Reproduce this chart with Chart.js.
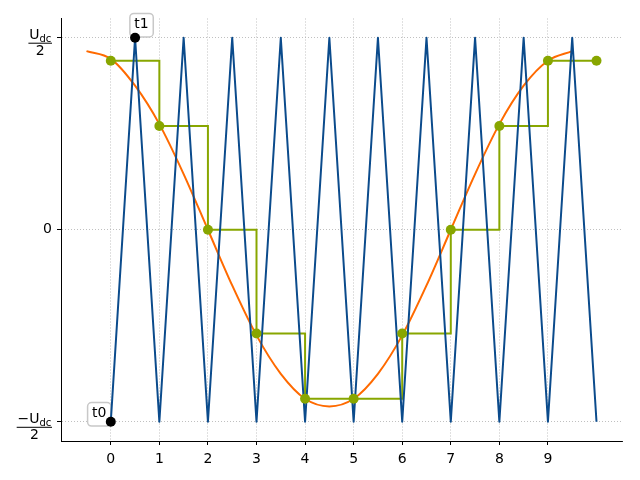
<!DOCTYPE html>
<html>
<head>
<meta charset="utf-8">
<script src="https://cdn.jsdelivr.net/npm/chart.js@4/dist/chart.umd.min.js"></script>
<style>
html,body{margin:0;padding:0;background:#fff;}
#c{display:block;}
</style>
</head>
<body>
<canvas id="c" width="640" height="480"></canvas>
<script>
// ---- data ----
const triangleX = [0,0.5,1,1.5,2,2.5,3,3.5,4,4.5,5,5.5,6,6.5,7,7.5,8,8.5,9,9.5,10];
const triangleY = [-1,1,-1,1,-1,1,-1,1,-1,1,-1,1,-1,1,-1,1,-1,1,-1,1,-1];
const curveX = [-0.5,0,0.5,1,1.5,2,2.5,3,3.5,4,4.5,5,5.5,6,6.5,7,7.5,8,8.5,9,9.5];
const curveY = [0.93,0.89,0.75,0.55,0.29,0,-0.29,-0.55,-0.75,-0.88,-0.92,-0.88,-0.75,-0.55,-0.29,0,0.29,0.55,0.75,0.88,0.93];
const sampleX = [0,1,2,3,4,5,6,7,8,9,10];
const sampleY = [0.88,0.54,0,-0.54,-0.88,-0.88,-0.54,0,0.54,0.88,0.88];
const markX = [0,0.5];
const markY = [-1,1];
const markLabels = ['t0','t1'];
const xTickValues = [0,1,2,3,4,5,6,7,8,9];
const yTickValues = [-1,0,1];

const zip = (xs, ys) => xs.map((x, i) => ({x: x, y: ys[i]}));

const BLUE = '#0b4b8c';
const ORANGE = '#ff6a00';
const GREEN = '#88a600';
const FONT = '"DejaVu Sans", sans-serif';

const overlay = {
  id: 'overlay',
  beforeDatasetsDraw(chart) {
    const ctx = chart.ctx, xs = chart.scales.x, ys = chart.scales.y;
    const offs = [[-11.5, -8.5], [6.5, -13.5]];
    ctx.save();
    ctx.font = '14px ' + FONT;
    markX.forEach((mx, i) => {
      const px = xs.getPixelForValue(mx) + offs[i][0];
      const py = ys.getPixelForValue(markY[i]) + offs[i][1];
      const w = ctx.measureText(markLabels[i]).width + 9;
      const h = 23.5;
      ctx.beginPath();
      ctx.roundRect(px - w / 2, py + 1 - h / 2, w, h, 4);
      ctx.fillStyle = '#ffffff';
      ctx.fill();
      ctx.lineWidth = 1.5;
      ctx.strokeStyle = '#c8c8c8';
      ctx.stroke();
      ctx.fillStyle = '#000';
      ctx.textAlign = 'center';
      ctx.textBaseline = 'middle';
      ctx.fillText(markLabels[i], px, py + 0.5);
    });
    ctx.restore();
  },
  afterDraw(chart) {
    const ctx = chart.ctx, ys = chart.scales.y;
    ctx.save();
    [[1, ''], [-1, '\u2212']].forEach(([v, pre]) => {
      const py = ys.getPixelForValue(v);
      ctx.font = '14px ' + FONT;
      const wMain = ctx.measureText(pre + 'U').width;
      ctx.font = '10px ' + FONT;
      const wSub = ctx.measureText('dc').width;
      const numW = wMain + wSub;
      ctx.font = '14px ' + FONT;
      const denW = ctx.measureText('2').width;
      const barW = Math.max(numW, denW) + 1.5;
      const right = 52;
      const left = right - barW;
      const cx = (left + right) / 2;
      ctx.fillStyle = '#000';
      ctx.textAlign = 'left';
      ctx.textBaseline = 'alphabetic';
      const nx = cx - numW / 2;
      ctx.fillText(pre + 'U', nx, py + 1.5);
      ctx.font = '10px ' + FONT;
      ctx.fillText('dc', nx + wMain, py + 4);
      ctx.fillRect(left, py + 5, barW, 1);
      ctx.font = '14px ' + FONT;
      ctx.textAlign = 'center';
      ctx.fillText('2', cx, py + 17.5);
    });
    ctx.restore();
  }
};

const gridCommon = {
  color: '#b0b0b0',
  lineWidth: 0.8,
  drawTicks: true,
  tickLength: 4,
  tickColor: '#000',
  tickWidth: 1,
  tickBorderDash: []
};
const borderCommon = {display: true, color: '#000', width: 1, dash: [1, 2]};

new Chart(document.getElementById('c'), {
  type: 'line',
  data: {
    datasets: [
      {data: zip(markX, markY), showLine: false, pointRadius: 5, pointBackgroundColor: '#000', pointBorderColor: '#000', pointBorderWidth: 0, order: 0},
      {data: zip(sampleX, sampleY), showLine: false, pointRadius: 5, pointBackgroundColor: GREEN, pointBorderColor: GREEN, pointBorderWidth: 0, order: 1},
      {data: zip(triangleX, triangleY), borderColor: BLUE, borderWidth: 2, pointRadius: 0, tension: 0, borderJoinStyle: 'round', order: 2},
      {data: zip(sampleX, sampleY), borderColor: GREEN, borderWidth: 2, pointRadius: 0, stepped: 'before', order: 3},
      {data: zip(curveX, curveY), borderColor: ORANGE, borderWidth: 2, pointRadius: 0, cubicInterpolationMode: 'monotone', order: 4}
    ]
  },
  options: {
    responsive: false,
    animation: false,
    devicePixelRatio: 1,
    layout: {padding: {left: 0, top: 18.5, right: 18, bottom: 0}},
    plugins: {legend: {display: false}, tooltip: {enabled: false}},
    scales: {
      x: {
        type: 'linear', min: -1.025, max: 10.525,
        afterBuildTicks: s => { s.ticks = xTickValues.map(v => ({value: v})); },
        afterFit: s => { s.height = 39; },
        grid: gridCommon,
        border: borderCommon,
        ticks: {color: '#000', font: {family: FONT, size: 14}, padding: 6, maxRotation: 0, autoSkip: false, callback: v => String(v)}
      },
      y: {
        type: 'linear', min: -1.1, max: 1.1,
        afterBuildTicks: s => { s.ticks = yTickValues.map(v => ({value: v})); },
        afterFit: s => { s.width = 61; },
        grid: gridCommon,
        border: borderCommon,
        ticks: {color: '#000', font: {family: FONT, size: 14}, padding: 5, autoSkip: false, callback: v => (v === 0 ? '0' : '')}
      }
    }
  },
  plugins: [overlay]
});
</script>
</body>
</html>
